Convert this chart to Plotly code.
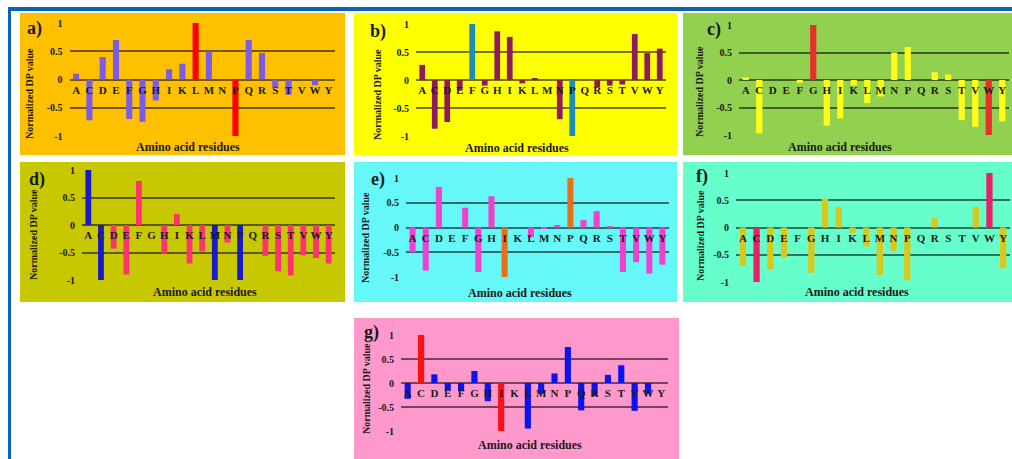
import plotly.graph_objects as go

residues = ["A", "C", "D", "E", "F", "G", "H", "I", "K", "L",
            "M", "N", "P", "Q", "R", "S", "T", "V", "W", "Y"]

vals_a = [0.10, -0.72, 0.40, 0.70, -0.70, -0.75, -0.37, 0.18, 0.28, 1.00,
          0.50, 0.00, -1.00, 0.70, 0.47, -0.15, -0.27, 0.00, -0.10, 0.00]
vals_b = [0.27, -0.87, -0.75, -0.18, 1.00, -0.10, 0.87, 0.77, -0.06, 0.02,
          0.00, -0.70, -1.00, 0.00, -0.13, -0.10, -0.08, 0.82, 0.48, 0.56]
vals_c = [0.05, -0.97, 0.00, 0.00, -0.05, 1.00, -0.83, -0.70, -0.10, -0.42,
          -0.30, 0.50, 0.60, 0.00, 0.14, 0.10, -0.73, -0.85, -1.00, -0.75]
vals_d = [1.00, -1.00, -0.43, -0.90, 0.80, 0.00, -0.52, 0.20, -0.70, -0.48,
          -1.00, -0.32, -1.00, 0.00, -0.56, -0.84, -0.92, -0.55, -0.60, -0.70]
vals_e = [-0.50, -0.87, 0.82, 0.00, 0.40, -0.90, 0.63, -1.00, 0.00, -0.20,
          -0.02, 0.05, 1.00, 0.15, 0.33, 0.03, -0.90, -0.70, -0.93, -0.75]
vals_f = [-0.70, -1.00, -0.77, -0.55, 0.00, -0.83, 0.53, 0.38, -0.10, -0.35,
          -0.87, -0.43, -0.97, 0.00, 0.18, 0.00, 0.00, 0.38, 1.00, -0.75]
vals_g = [-0.33, 1.00, 0.18, -0.15, -0.17, 0.25, -0.38, -1.00, 0.00, -0.95,
          -0.22, 0.20, 0.75, -0.57, -0.27, 0.17, 0.37, -0.58, -0.22, 0.00]

panel_labels = ["a)", "b)", "c)", "d)", "e)", "f)", "g)"]
y_ticks = [-1, -0.5, 0, 0.5, 1]
y_tick_text = ["-1", "-0.5", "0", "0.5", "1"]
x_title = "Amino acid residues"
y_title = "Normalized DP value"

W, H = 1012, 459
SERIF = "Liberation Serif, Times New Roman, serif"

panels = [
    dict(vals=vals_a, bg=(20, 13, 345, 155), plot=(69.5, 335, 23, 136), bgc="#FFC000",
         bar="#7B5CE6", hi="#FF0000", lab=(34, 28), yt=(30, 94), xt=(188, 147)),
    dict(vals=vals_b, bg=(354, 13, 677, 155), plot=(416, 666, 24, 136), bgc="#FFFF00",
         bar="#8E1B5E", hi="#1E8CB4", lab=(378, 31), yt=(377, 95), xt=(517, 148)),
    dict(vals=vals_c, bg=(683, 13, 1012, 155), plot=(739, 1009, 25, 135), bgc="#92D050",
         bar="#FFFF1A", hi="#E8302A", lab=(714, 30), yt=(699, 92), xt=(840, 147)),
    dict(vals=vals_d, bg=(20, 162, 345, 302), plot=(82, 335, 170, 280), bgc="#C8C800",
         bar="#FF3370", hi="#1A1AC8", lab=(37, 179), yt=(33, 235), xt=(205, 292)),
    dict(vals=vals_e, bg=(354, 162, 677, 302), plot=(406, 669, 178, 277), bgc="#66F8F8",
         bar="#F040D0", hi="#E8701A", lab=(378, 179), yt=(365, 238), xt=(520, 293)),
    dict(vals=vals_f, bg=(683, 162, 1012, 302), plot=(736, 1010, 173, 282), bgc="#66FFCC",
         bar="#D8C81E", hi="#E8206A", lab=(702, 177), yt=(700, 236), xt=(857, 292)),
    dict(vals=vals_g, bg=(354, 318, 679, 459), plot=(401, 668, 335, 431), bgc="#FF99CC",
         bar="#0A14F0", hi="#FF1010", lab=(371, 332), yt=(366, 389), xt=(530, 445)),
]

def px(x):
    return x / W

def py(y):
    return 1 - y / H

fig = go.Figure()
shapes = []
annotations = []

for i, p in enumerate(panels):
    n = i + 1
    xa = "x" if n == 1 else f"x{n}"
    ya = "y" if n == 1 else f"y{n}"
    xkey = "xaxis" if n == 1 else f"xaxis{n}"
    ykey = "yaxis" if n == 1 else f"yaxis{n}"
    colors = [p["hi"] if abs(v) >= 1 else p["bar"] for v in p["vals"]]
    fig.add_trace(go.Bar(x=residues, y=p["vals"], marker=dict(color=colors, line=dict(width=0)),
                         xaxis=xa, yaxis=ya, showlegend=False, width=0.46))
    bx0, by0, bx1, by1 = p["bg"]
    shapes.append(dict(type="rect", xref="paper", yref="paper", layer="below",
                       x0=px(bx0), x1=px(bx1), y0=py(by1), y1=py(by0),
                       fillcolor=p["bgc"], line=dict(width=0)))
    x0, x1, y0, y1 = p["plot"]
    ydom = [py(y1), py(y0)]
    fig.update_layout({
        xkey: dict(domain=[px(x0), px(x1)], anchor="free", position=(ydom[0] + ydom[1]) / 2,
                   range=[-0.5, 19.5], showgrid=False, zeroline=False, showline=False,
                   ticks="", ticklabelstandoff=2, automargin=False,
                   tickmode="array", tickvals=residues, ticktext=residues,
                   tickfont=dict(family=SERIF, size=11, color="#1a1a1a", weight="bold"),
                   tickangle=0, type="category"),
        ykey: dict(domain=ydom, anchor=xa, range=[-1.0, 1.0], tickvals=y_ticks, ticktext=y_tick_text,
                   showgrid=True, gridcolor="rgba(0,0,0,0.55)", gridwidth=1.5, zeroline=False,
                   showline=False, ticks="", ticklabelstandoff=6, automargin=False,
                   tickfont=dict(family=SERIF, size=10, color="#1a1a1a", weight="bold")),
    })
    annotations.append(dict(xref="paper", yref="paper", x=px(p["lab"][0]), y=py(p["lab"][1]),
                            xanchor="center", yanchor="middle",
                            text=panel_labels[i], showarrow=False,
                            font=dict(family=SERIF, size=18, color="#1a1a1a", weight="bold")))
    annotations.append(dict(xref="paper", yref="paper", x=px(p["yt"][0]), y=py(p["yt"][1]),
                            xanchor="center", yanchor="middle",
                            text=y_title, textangle=-90, showarrow=False,
                            font=dict(family=SERIF, size=10, color="#1a1a1a", weight="bold")))
    annotations.append(dict(xref="paper", yref="paper", x=px(p["xt"][0]), y=py(p["xt"][1]),
                            xanchor="center", yanchor="middle",
                            text=x_title, showarrow=False,
                            font=dict(family=SERIF, size=12, color="#1a1a1a", weight="bold")))

# blue frame
shapes.append(dict(type="line", xref="paper", yref="paper", x0=px(8), x1=1, y0=py(9), y1=py(9),
                   line=dict(color="#0B63B5", width=4)))
shapes.append(dict(type="line", xref="paper", yref="paper", x0=px(9.5), x1=px(9.5), y0=0, y1=py(8),
                   line=dict(color="#0B63B5", width=3)))

fig.update_layout(width=W, height=H, margin=dict(l=0, r=0, t=0, b=0, autoexpand=False),
                  paper_bgcolor="white", plot_bgcolor="rgba(0,0,0,0)",
                  shapes=shapes, annotations=annotations, bargap=0.55)

fig.write_html("out.html", config={"displayModeBar": False},
               post_script="document.documentElement.style.margin='0';"
                           "document.body.style.margin='0';"
                           "document.documentElement.style.overflow='hidden';"
                           "document.body.style.overflow='hidden';")
